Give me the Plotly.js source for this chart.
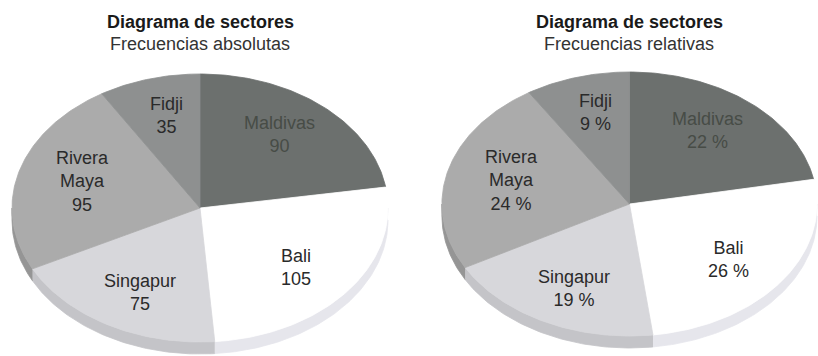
<!DOCTYPE html>
<html>
<head>
<meta charset="utf-8">
<script src="https://cdn.plot.ly/plotly-3.0.1.min.js"></script>
<style>html,body{margin:0;padding:0;background:#fff;}#chart{width:818px;height:356px;}</style>
</head>
<body>
<div id="chart"></div>
<script>
// ---- data ----
const categories = ["Maldivas", "Bali", "Singapur", "Rivera Maya", "Fidji"];
const categoryLabels = ["Maldivas", "Bali", "Singapur", "Rivera<br>Maya", "Fidji"];
const absoluteValues = [90, 105, 75, 95, 35];
const relativeValues = [22, 26, 19, 24, 9];
const titleMain = "Diagrama de sectores";
const subtitleAbs = "Frecuencias absolutas";
const subtitleRel = "Frecuencias relativas";

// ---- styles ----
const topColors = ["#6c706e", "#ffffff", "#d7d7db", "#ababab", "#8e9090"];
const rimColors = ["#555857", "#e6e6ec", "#c4c4c8", "#959595", "#767878"];
const labelColors = ["#474c46", "#2a2a2a", "#2a2a2a", "#2a2a2a", "#2a2a2a"];
const PX = 188;            // pixels per unit radius
const RIM = 12 / PX;       // rim thickness
const FONT = "Liberation Sans, Arial, sans-serif";

function sectors(values) {
  const tot = values.reduce((a, b) => a + b, 0);
  let a = 0;
  return values.map(v => { const s = a; a += v / tot * 360; return [s, a]; });
}
function pt(deg, tilt) {
  const r = deg * Math.PI / 180;
  return [Math.sin(r), tilt * Math.cos(r)];
}
function arc(s, e, tilt) {
  const xs = [], ys = [];
  let d = s;
  while (true) { const p = pt(d, tilt); xs.push(p[0]); ys.push(p[1]); if (d >= e) break; d = Math.min(e, d + 1); }
  return [xs, ys];
}
function buildPie(values, tilt, xa, ya, textFn) {
  const traces = [], anns = [];
  const secs = sectors(values);
  // rims (visible on the front half: 90..270 deg)
  secs.forEach(([a, b], i) => {
    const s = Math.max(a, 90), e = Math.min(b, 270);
    if (e <= s) return;
    const [xs, ys] = arc(s, e, tilt);
    for (let k = xs.length - 1; k >= 0; k--) { xs.push(xs[k]); ys.push(ys[k] - RIM); }
    traces.push({type: "scatter", mode: "lines", x: xs, y: ys, fill: "toself",
      fillcolor: rimColors[i], line: {color: rimColors[i], width: 0.8},
      xaxis: xa, yaxis: ya, hoverinfo: "skip", showlegend: false});
  });
  // top faces
  secs.forEach(([a, b], i) => {
    const [ax, ay] = arc(a, b, tilt);
    const xs = [0].concat(ax, [0]), ys = [0].concat(ay, [0]);
    traces.push({type: "scatter", mode: "lines", x: xs, y: ys, fill: "toself",
      fillcolor: topColors[i], line: {color: topColors[i], width: 0.8},
      xaxis: xa, yaxis: ya, hoverinfo: "skip", showlegend: false});
    const mid = (a + b) / 2 * Math.PI / 180;
    anns.push({xref: xa, yref: ya, x: 0.65 * Math.sin(mid), y: 0.72 * tilt * Math.cos(mid),
      text: categoryLabels[i] + "<br>" + textFn(values[i]), showarrow: false,
      font: {family: FONT, size: 18, color: labelColors[i]},
      xanchor: "center", yanchor: "middle", align: "center"});
  });
  return {traces, anns};
}

const left = buildPie(absoluteValues, 134 / PX, "x", "y", v => String(v));
const right = buildPie(relativeValues, 132 / PX, "x2", "y2", v => v + " %");

function titleAnns(xa, sub) {
  return [
    {xref: xa, yref: "paper", x: 0, y: 1 - 21.5 / 356, text: "<b>" + titleMain + "</b>", showarrow: false,
     font: {family: FONT, size: 18, color: "#1a1a1a"}, xanchor: "center", yanchor: "middle"},
    {xref: xa, yref: "paper", x: 0, y: 1 - 44 / 356, text: sub, showarrow: false,
     font: {family: FONT, size: 18, color: "#333333"}, xanchor: "center", yanchor: "middle"}
  ];
}

const hidden = {visible: false, fixedrange: true};
const layout = {
  width: 818, height: 356, margin: {l: 0, r: 0, t: 0, b: 0},
  paper_bgcolor: "#ffffff", plot_bgcolor: "#ffffff", showlegend: false,
  xaxis: Object.assign({domain: [0, 0.5], range: [-200 / PX, 209 / PX]}, hidden),
  yaxis: Object.assign({domain: [0, 1], range: [-148 / PX, 208 / PX]}, hidden),
  xaxis2: Object.assign({domain: [0.5, 1], range: [-221 / PX, 189 / PX], anchor: "y2"}, hidden),
  yaxis2: Object.assign({domain: [0, 1], range: [-152 / PX, 204 / PX], anchor: "x2"}, hidden),
  annotations: titleAnns("x", subtitleAbs).concat(titleAnns("x2", subtitleRel), left.anns, right.anns)
};
Plotly.newPlot("chart", left.traces.concat(right.traces), layout, {displayModeBar: false, staticPlot: true});
</script>
</body>
</html>
